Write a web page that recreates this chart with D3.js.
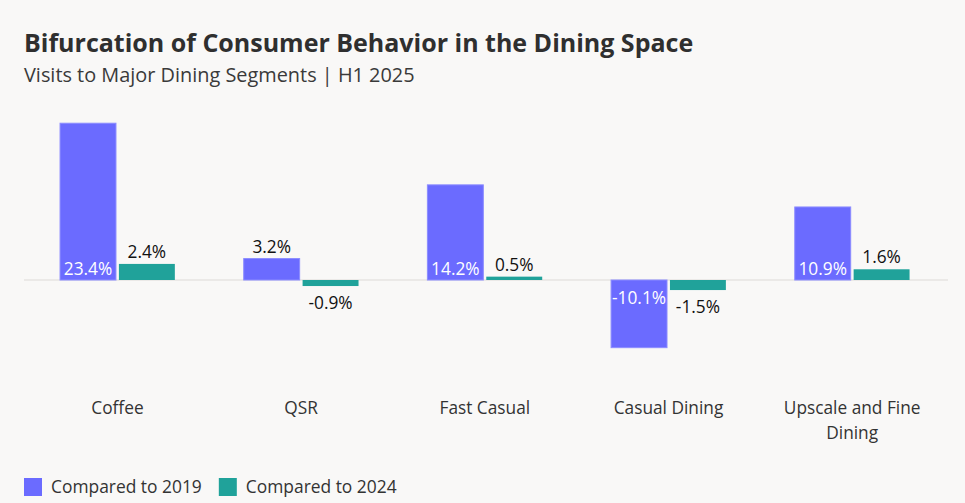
<!DOCTYPE html>
<html>
<head>
<meta charset="utf-8">
<script src="https://cdn.jsdelivr.net/npm/d3@7"></script>
<style>
  html, body { margin: 0; padding: 0; background: #f9f8f7; }
  svg { display: block; font-family: "Open Sans", sans-serif; }
</style>
</head>
<body>
<svg id="chart" width="965" height="503"></svg>
<script>
let categories = ["Coffee", "QSR", "Fast Casual", "Casual Dining", "Upscale and Fine Dining"];
let series = ["Compared to 2019", "Compared to 2024"];
let vs2019 = [23.4, 3.2, 14.2, -10.1, 10.9];
let vs2024 = [2.4, -0.9, 0.5, -1.5, 1.6];
let colors = ["#6b6bff", "#20a29a"];

let svg = d3.select('#chart');
let width = 965, height = 503;

// titulo
svg.append("text")
    .attr("x", 24).attr("y", 52)
    .attr("font-size", 25).attr("font-weight", 700)
    .attr("fill", "#2f2f2f")
    .text("Bifurcation of Consumer Behavior in the Dining Space");
svg.append("text")
    .attr("x", 24).attr("y", 82)
    .attr("font-size", 19.9)
    .attr("fill", "#3a3a3a")
    .text("Visits to Major Dining Segments | H1 2025");

let x0 = d3.scaleBand()
    .domain(categories)
    .range([25.6, 944])
    .paddingInner(0.375)
    .paddingOuter(0.1875);

let x1 = d3.scaleBand()
    .domain(series)
    .range([0, x0.bandwidth()])
    .paddingInner(0.05);

let y = d3.scaleLinear()
    .domain([-20, 30])
    .range([414, 79]);

let rows = categories.map(function(c, i) {
    return {cat: c, vals: [vs2019[i], vs2024[i]]};
});

// linea del cero
svg.append("line")
    .attr("x1", 24).attr("x2", 948)
    .attr("y1", y(0)).attr("y2", y(0))
    .attr("stroke", "#e6e4e2").attr("stroke-width", 1.5);

let groups = svg.append("g")
    .selectAll("g")
    .data(rows)
    .join("g")
    .attr("transform", function(d) { return "translate(" + x0(d.cat) + ",0)"; });

let cells = groups.selectAll("g")
    .data(function(d) {
        return d.vals.map(function(v, j) { return {key: series[j], v: v, j: j}; });
    })
    .join("g");

cells.append("rect")
    .attr("x", function(d) { return x1(d.key); })
    .attr("width", x1.bandwidth())
    .attr("y", function(d) { return d.v >= 0 ? y(d.v) : y(0); })
    .attr("height", function(d) { return Math.abs(y(d.v) - y(0)); })
    .attr("fill", function(d) { return colors[d.j]; })
    .attr("stroke", function(d) { return d.j === 0 ? "#8c8cff" : "none"; })
    .attr("stroke-width", 1);

// etiquetas: dentro si la barra es grande, fuera si no
cells.append("text")
    .attr("x", function(d) { return x1(d.key) + x1.bandwidth() / 2; })
    .attr("y", function(d) {
        let inside = Math.abs(d.v) > 5;
        if (d.v >= 0) return inside ? y(0) - 5 : y(d.v) - 6;
        return inside ? y(0) + 24 : y(d.v) + 23;
    })
    .attr("text-anchor", "middle")
    .attr("font-size", 17.3)
    .attr("fill", function(d) { return Math.abs(d.v) > 5 ? "#ffffff" : "#111111"; })
    .text(function(d) { return d.v.toFixed(1) + "%"; });

// eje x
let axis = svg.append("g")
    .attr("transform", "translate(0,414)")
    .call(d3.axisBottom(x0).tickSize(0).tickPadding(0));
axis.select(".domain").remove();
axis.selectAll("text")
    .attr("font-size", 17.3)
    .attr("font-family", "Open Sans, sans-serif")
    .attr("fill", "#333")
    .attr("dy", 0)
    .each(function(d) {
        let t = d3.select(this);
        if (d === "Upscale and Fine Dining") {
            t.text(null);
            t.append("tspan").attr("x", 0).attr("dy", 0).text("Upscale and Fine");
            t.append("tspan").attr("x", 0).attr("dy", 25).text("Dining");
        }
    });

// leyenda
let legend = svg.append("g").attr("transform", "translate(24,478)");
let lx = 0;
series.forEach(function(s, i) {
    let item = legend.append("g").attr("transform", "translate(" + lx + ",0)");
    item.append("rect").attr("width", 18).attr("height", 18).attr("fill", colors[i]);
    let t = item.append("text").attr("x", 27).attr("y", 15)
        .attr("font-size", 17.4).attr("fill", "#333").text(s);
    lx += 27 + t.node().getComputedTextLength() + 17;
});
</script>
</body>
</html>
